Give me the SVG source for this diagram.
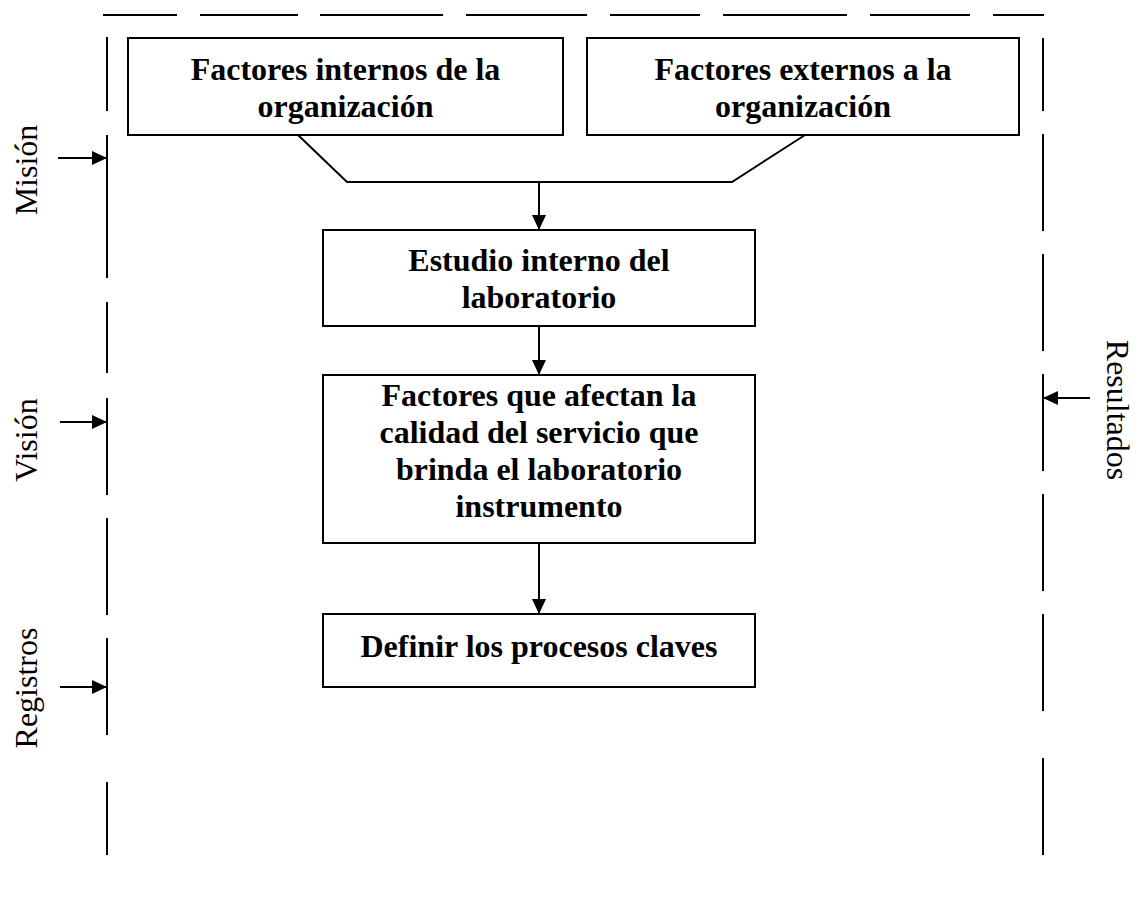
<svg xmlns="http://www.w3.org/2000/svg" width="1142" height="900" viewBox="0 0 1142 900">
<style>
.bg{fill:#ffffff}
.box{fill:#ffffff;stroke:#000;stroke-width:2}
.ln{fill:none;stroke:#000;stroke-width:2}
.dash{fill:none;stroke:#000;stroke-width:2}
.bt{font-family:"Liberation Serif","Times New Roman",serif;font-weight:bold;font-size:32px;fill:#000;text-anchor:middle}
.lt{font-family:"Liberation Serif","Times New Roman",serif;font-size:32px;fill:#000;text-anchor:middle}
</style>
<defs>
<marker id="ah" viewBox="0 0 15 14" refX="15" refY="7" markerWidth="15" markerHeight="14" markerUnits="userSpaceOnUse" orient="auto">
<path d="M0,0 L15,7 L0,14 z" fill="#000"/>
</marker>
</defs>
<rect class="bg" x="0" y="0" width="1142" height="900"/>
<g id="frame">
<path class="dash" d="M103,15H177 M200,15H298 M320,15H443 M466,15H587 M610,15H700 M723,15H847 M870,15H970 M993,15H1044"/>
<path class="dash" d="M107,37V111 M107,135V278 M107,302V373 M107,398V495 M107,518V615 M107,638V735 M107,782V855"/>
<path class="dash" d="M1043,38V111 M1043,134V231 M1043,254V351 M1043,374V471 M1043,494V591 M1043,614V711 M1043,758V855"/>
</g>
<g id="labels">
<g id="mision"><text class="lt" transform="translate(37,170) rotate(-90)">Misión</text></g>
<g id="vision"><text class="lt" transform="translate(37,440) rotate(-90)">Visión</text></g>
<g id="registros"><text class="lt" transform="translate(37,688) rotate(-90)">Registros</text></g>
<g id="resultados"><text class="lt" transform="translate(1107,410) rotate(90)">Resultados</text></g>
</g>
<g id="connectors">
<path class="ln" d="M298,135 L347,182 H732 L805,135"/>
<path class="ln" d="M539,182 V230" marker-end="url(#ah)"/>
<path class="ln" d="M539,326 V375" marker-end="url(#ah)"/>
<path class="ln" d="M539,543 V614" marker-end="url(#ah)"/>
<path class="ln" d="M58,158 H107" marker-end="url(#ah)"/>
<path class="ln" d="M60,422 H107" marker-end="url(#ah)"/>
<path class="ln" d="M60,687 H107" marker-end="url(#ah)"/>
<path class="ln" d="M1090,398 H1043" marker-end="url(#ah)"/>
</g>
<g id="n1">
<rect class="box" x="128" y="38" width="435" height="97"/>
<text class="bt" x="345.5" y="80">Factores internos de la</text>
<text class="bt" x="345.5" y="117">organización</text>
</g>
<g id="n2">
<rect class="box" x="587" y="38" width="432" height="97"/>
<text class="bt" x="803" y="80">Factores externos a la</text>
<text class="bt" x="803" y="117">organización</text>
</g>
<g id="n3">
<rect class="box" x="323" y="230" width="432" height="96"/>
<text class="bt" x="539" y="271">Estudio interno del</text>
<text class="bt" x="539" y="308">laboratorio</text>
</g>
<g id="n4">
<rect class="box" x="323" y="375" width="432" height="168"/>
<text class="bt" x="539" y="406">Factores que afectan la</text>
<text class="bt" x="539" y="443">calidad del servicio que</text>
<text class="bt" x="539" y="480">brinda el laboratorio</text>
<text class="bt" x="539" y="517">instrumento</text>
</g>
<g id="n5">
<rect class="box" x="323" y="614" width="432" height="73"/>
<text class="bt" x="539" y="657">Definir los procesos claves</text>
</g>
</svg>
